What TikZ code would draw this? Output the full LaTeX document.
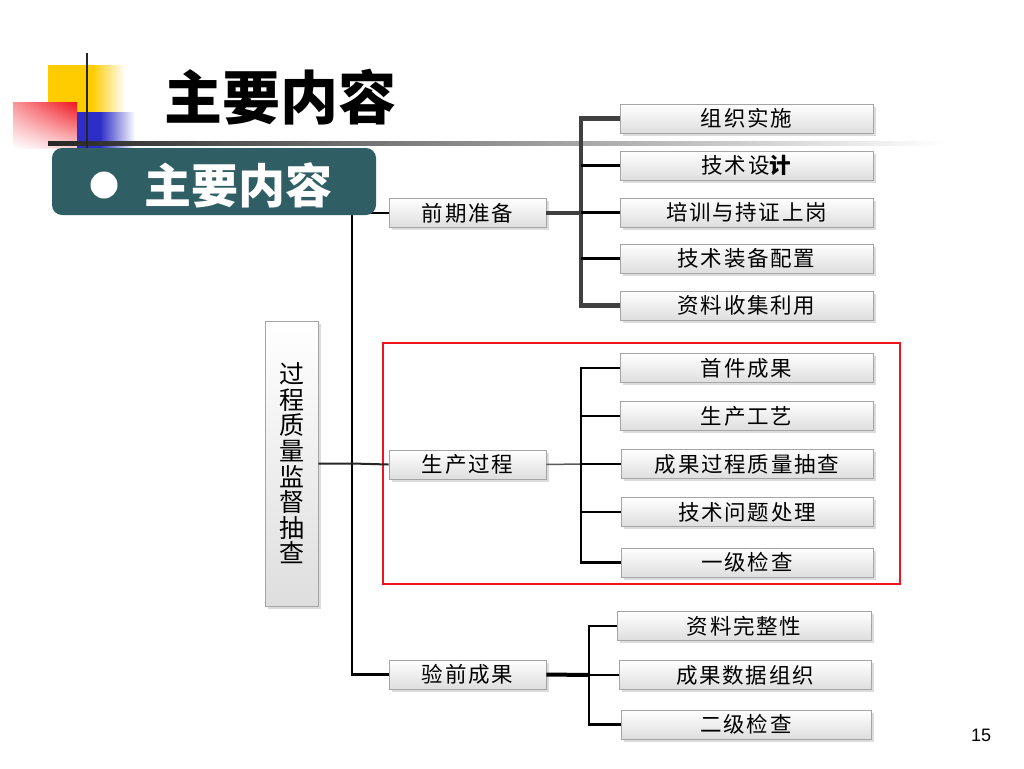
\documentclass[tikz,border=0pt]{standalone}
\usepackage{fontspec}
\newfontfamily\cjk{Noto Sans CJK SC}
\newfontfamily\cjkls{Noto Sans CJK SC}[LetterSpace=8]
\newfontfamily\numfont{Liberation Sans}
\usetikzlibrary{shadows,shadings}
\definecolor{teal1}{RGB}{47,94,101}
\definecolor{bracketgray}{RGB}{64,64,64}
\definecolor{boxline}{RGB}{165,165,165}
\definecolor{ylw}{RGB}{255,204,0}
\definecolor{blu}{RGB}{45,45,200}
\definecolor{redd}{RGB}{240,20,30}
\tikzset{
  rbox/.style={draw=boxline, line width=0.9pt, top color=white, bottom color=black!13,
    minimum height=29, inner sep=0, font=\cjkls\fontsize{21.5}{24}\selectfont,
    drop shadow={shadow xshift=2.5pt, shadow yshift=-2.5pt, fill=black!30, opacity=0.45}},
  widebox/.style={rbox, minimum width=253},
  midbox/.style={rbox, minimum width=157},
  thinline/.style={line width=2.2pt, black},
  thickline/.style={line width=4.8pt, bracketgray},
}
\begin{document}
\begin{tikzpicture}[x=1pt,y=-1pt]
\useasboundingbox[fill=white] (0,0) rectangle (1024,768);

% decoration
\fill[ylw] (48,65) rectangle (92,112);
\shade[left color=ylw, right color=white] (92,65) rectangle (125,112);
\shade[upper left=redd!45, upper right=redd, lower left=white, lower right=redd!20] (13,102) rectangle (77,148);
\fill[blu] (77,112) rectangle (100,148);
\shade[left color=blu, right color=white] (100,112) rectangle (135,148);
\shade[left color=black!85, right color=white] (48,141) rectangle (945,145);
\draw[line width=2.5pt, black!85] (87,53) -- (87,148);

% title
\node[font=\cjk\bfseries\fontsize{58}{60}\selectfont] (title) at (280,97) {主要内容};

% red frame
\draw[line width=2pt, redd] (383,343) rectangle (900,584);

% nodes
\node[rbox, minimum width=53, minimum height=285, font=\cjk\fontsize{25}{25.6}\selectfont, align=center] (root) at (291.5,463.5) {过\\程\\质\\量\\监\\督\\抽\\查};

\node[midbox] (p1) at (467.5,213) {前期准备};
\node[midbox] (p2) at (467.5,464.5) {生产过程};
\node[midbox] (p3) at (467.5,674.5) {验前成果};

\node[widebox] (a1) at (746.5,118.5) {组织实施};
\node[widebox] (a2) at (746.5,165.5) {技术设{\bfseries 计}};
\node[widebox] (a3) at (746.5,212.5) {培训与持证上岗};
\node[widebox] (a4) at (746.5,258.5) {技术装备配置};
\node[widebox] (a5) at (746.5,305.5) {资料收集利用};

\node[widebox] (b1) at (746.5,368) {首件成果};
\node[widebox] (b2) at (746.5,416) {生产工艺};
\node[widebox, minimum width=252] (b3) at (747,464) {成果过程质量抽查};
\node[widebox, minimum width=252] (b4) at (747,512) {技术问题处理};
\node[widebox, minimum width=252] (b5) at (747,562.5) {一级检查};

\node[widebox, minimum width=254] (c1) at (744,626) {资料完整性};
\node[widebox, minimum width=252] (c2) at (745,675) {成果数据组织};
\node[widebox, minimum width=250] (c3) at (746,724.5) {二级检查};

% connectors
\coordinate (sp) at (352,213);
\coordinate (ba) at (581,213);
\coordinate (bb) at (581,464);
\coordinate (bc) at (589,675);

\draw[thinline] (p1.west) -- (sp) -- (sp |- p3.west) -- (p3.west);
\draw[line width=2pt, black!85] (root.east) -- (sp |- root.east) -- (p2.west);

% top bracket
\draw[thickline] (p1.east) -- (ba);
\draw[thickline] (a1.west) -- (ba |- a1.west) -- (ba |- a5.west) -- (a5.west);
\draw[thinline] (ba |- a2.west) -- (a2.west);
\draw[thinline] (ba |- a3.west) -- (a3.west);
\draw[thinline] (ba |- a4.west) -- (a4.west);

% middle bracket
\draw[line width=1.5pt, black!65] (p2.east) -- (bb);
\draw[thinline] (b1.west) -- (bb |- b1.west) -- (bb |- b5.west) -- (b5.west);
\draw[thinline] (bb |- b2.west) -- (b2.west);
\draw[thinline] (bb |- b3.west) -- (b3.west);
\draw[thinline] (bb |- b4.west) -- (b4.west);

% bottom bracket
\draw[line width=4pt, black] (p3.east) -- (bc);
\draw[line width=2.8pt, black] (c1.west) -- (bc |- c1.west) -- (bc |- c3.west) -- (c3.west);
\draw[line width=2.8pt, black] (bc) -- (c2.west);

% subtitle box
\node[fill=teal1, rounded corners=10pt, minimum width=324, minimum height=67, inner sep=0] (sub) at (214,181.5) {};
\node[circle, fill=white, minimum size=27, inner sep=0] (bul) at (104,185) {};
\node[text=white, font=\cjk\bfseries\fontsize{47}{50}\selectfont] (subt) at (238,185) {主要内容};

% page number
\node[font=\numfont\fontsize{18}{20}\selectfont] (pg) at (981,735) {15};
\end{tikzpicture}
\end{document}
